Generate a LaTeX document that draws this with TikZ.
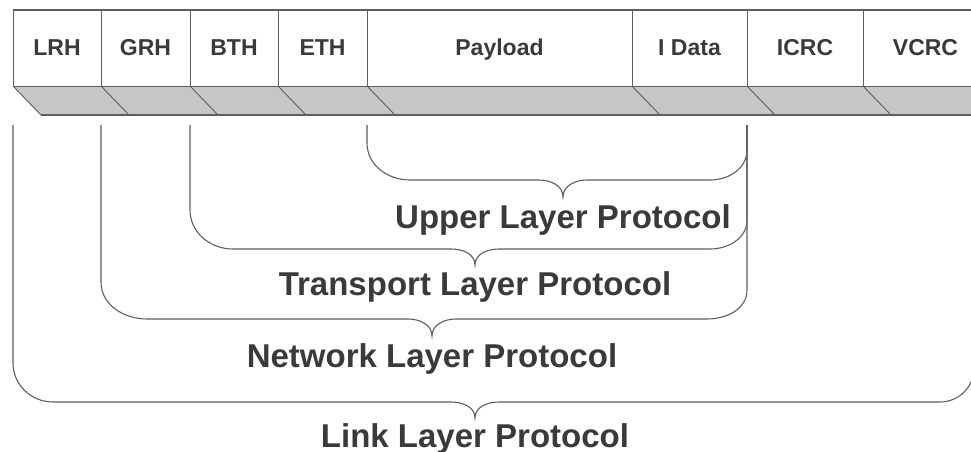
\documentclass[tikz,border=0pt]{standalone}
\usepackage{fontspec}
\setmainfont{Liberation Sans}
\definecolor{inkgray}{HTML}{3A3A3A}
\definecolor{linegray}{HTML}{5E5E5E}
\definecolor{shadegray}{HTML}{C6C6C6}
\tikzset{
  field/.style={draw=linegray, line width=0.9pt, fill=white, anchor=north west,
    minimum height=76pt, inner sep=0pt, outer sep=0pt, text height=16pt, text depth=0pt,
    font=\fontsize{23}{26}\selectfont\bfseries, text=inkgray},
  brace/.style={draw=linegray, line width=1.1pt},
  layer/.style={anchor=base, inner sep=0pt, font=\fontsize{33}{38}\selectfont\bfseries, text=inkgray},
}
\begin{document}
\begin{tikzpicture}[x=1pt, y=-1pt]
            \clip (0,0) rectangle (971,452);
            %shadow under the header
            \fill[shadegray] (13,86) -- (41,115) -- (990,115) -- (990,86) -- cycle;
            \draw[linegray, line width=1.2pt] (41,115) -- (990,115);
            \draw[linegray, line width=0.9pt] (13,86) -- (41,115);

            %header fields
            \node[field, minimum width=88pt] (lrh) at (13,10) {LRH};
            \node[field, minimum width=89pt] (grh) at (101,10) {GRH};
            \node[field, minimum width=88pt] (bth) at (190,10) {BTH};
            \node[field, minimum width=89pt] (eth) at (278,10) {ETH};
            \node[field, minimum width=265pt] (payload) at (367,10) {Payload};
            \node[field, minimum width=115pt] (idata) at (632,10) {I Data};
            \node[field, minimum width=116pt] (icrc) at (747,10) {ICRC};
            \node[field, minimum width=125pt] (vcrc) at (863,10) {VCRC};
            \draw[linegray, line width=1.4pt] (13,10) -- (990,10);

            %slanted edges of the shadow
            \foreach \f in {lrh,grh,bth,eth,payload,idata,icrc}
                \draw[linegray, line width=0.9pt] (\f.south east) -- ++(28,29);

            %braces
            \draw[brace] (367,125) -- (367,143) to[out=-90,in=180] (410,180) -- (539,180)
                to[out=0,in=90] (563,197) to[out=90,in=180] (587,180) -- (710,180)
                to[out=0,in=-90] (747,150) -- (747,125);
            \draw[brace] (190,125) -- (190,210) to[out=-90,in=180] (233,249) -- (451,249)
                to[out=0,in=90] (475,265) to[out=90,in=180] (499,249) -- (710,249)
                to[out=0,in=-90] (747,220) -- (747,125);
            \draw[brace] (101,125) -- (101,282) to[out=-90,in=180] (147,319) -- (408,319)
                to[out=0,in=90] (432,336) to[out=90,in=180] (456,319) -- (707,319)
                to[out=0,in=-90] (747,290) -- (747,125);
            \draw[brace] (13,125) -- (13,363) to[out=-90,in=180] (53,402) -- (451,402)
                to[out=0,in=90] (475,418) to[out=90,in=180] (499,402) -- (940,402)
                to[out=0,in=-90] (974,368) -- (974,125);

            %layer names
            \node[layer] (upper) at (563,228) {Upper Layer Protocol};
            \node[layer] (transport) at (475,295) {Transport Layer Protocol};
            \node[layer] (network) at (432,367) {Network Layer Protocol};
            \node[layer] (link) at (475,447) {Link Layer Protocol};
\end{tikzpicture}
\end{document}
